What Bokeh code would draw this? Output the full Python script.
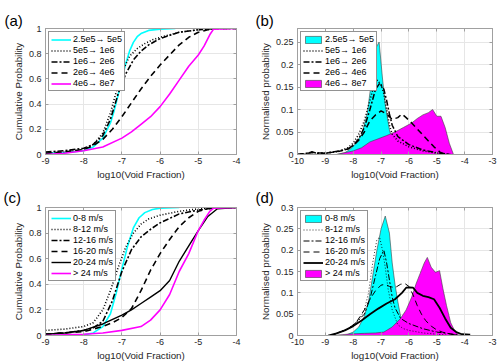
from bokeh.plotting import figure
from bokeh.models import (Range1d, FixedTicker, CustomJSTickFormatter, Legend,
                          LegendItem, LinearAxis)
from bokeh.layouts import row, column
from bokeh.embed import file_html
from bokeh.resources import INLINE

# ------------------------------------------------------------------ data
# (a) cumulative probability, Reynolds-number classes
a_labels = ["2.5e5\u2192 5e5", "5e5\u2192 1e6", "1e6\u2192 2e6", "2e6\u2192 4e6", "4e6\u2192 8e7"]
a1_x = [-9, -8.5, -8, -7.75, -7.5, -7.3, -7.2, -7.1, -7.0, -6.9, -6.8, -6.7, -6.6, -6.5, -6.3, -6.0, -5.6]
a1_y = [0.01, 0.015, 0.03, 0.06, 0.13, 0.25, 0.35, 0.47, 0.6, 0.72, 0.82, 0.89, 0.935, 0.96, 0.985, 0.995, 1.0]
a2_x = [-9, -8.5, -8, -7.75, -7.5, -7.3, -7.1, -7.0, -6.8, -6.6, -6.4, -6.2, -6.0, -5.5, -5, -4.5, -4]
a2_y = [0.01, 0.02, 0.04, 0.08, 0.17, 0.33, 0.55, 0.65, 0.78, 0.84, 0.88, 0.91, 0.93, 0.97, 0.99, 1.0, 1.0]
a3_x = [-9, -8.5, -8, -7.75, -7.5, -7.3, -7.1, -6.9, -6.7, -6.5, -6.3, -6.0, -5.5, -5, -4.5, -4]
a3_y = [0.02, 0.03, 0.05, 0.08, 0.15, 0.28, 0.48, 0.64, 0.75, 0.82, 0.87, 0.92, 0.97, 0.99, 1.0, 1.0]
a4_x = [-9, -8.5, -8, -7.75, -7.5, -7.25, -7.0, -6.75, -6.5, -6.25, -6.0, -5.75, -5.5, -5.25, -5.0, -4.75, -4.5, -4]
a4_y = [0.01, 0.02, 0.04, 0.07, 0.12, 0.2, 0.3, 0.41, 0.52, 0.62, 0.71, 0.79, 0.87, 0.93, 0.97, 0.99, 1.0, 1.0]
a5_x = [-9, -8.5, -8, -7.5, -7.0, -6.75, -6.5, -6.25, -6.0, -5.75, -5.5, -5.25, -5.0, -4.85, -4.7, -4.6, -4]
a5_y = [0.0, 0.01, 0.03, 0.06, 0.13, 0.18, 0.24, 0.3, 0.38, 0.48, 0.59, 0.7, 0.79, 0.86, 0.95, 0.995, 1.0]

# (b) normalised probability, Reynolds-number classes
b1_x = [-8.6, -8.3, -8.1, -7.9, -7.7, -7.5, -7.35, -7.2, -7.07, -6.95, -6.85, -6.7, -6.55, -6.4, -6.25]
b1_y = [0.0, 0.004, 0.012, 0.025, 0.045, 0.09, 0.16, 0.235, 0.25, 0.17, 0.11, 0.055, 0.02, 0.006, 0.0]
b2_x = [-10, -9.6, -9.5, -9.3, -9, -8.5, -8.2, -8, -7.8, -7.6, -7.4, -7.25, -7.13, -7.0, -6.9, -6.8,
        -6.7, -6.6, -6.4, -6.0, -5.5, -5.0, -4.5]
b2_y = [0, 0.003, 0.006, 0.003, 0.003, 0.007, 0.015, 0.025, 0.045, 0.075, 0.12, 0.155, 0.165, 0.155,
        0.135, 0.1, 0.065, 0.045, 0.03, 0.017, 0.008, 0.003, 0.0]
b3_x = [-10, -9.6, -9.5, -9.3, -9, -8.5, -8.2, -8, -7.8, -7.6, -7.4, -7.2, -7.05, -6.9, -6.8, -6.7,
        -6.6, -6.4, -6.0, -5.5, -5.0, -4.5]
b3_y = [0, 0.003, 0.006, 0.003, 0.003, 0.008, 0.012, 0.02, 0.035, 0.06, 0.1, 0.145, 0.158, 0.145,
        0.12, 0.09, 0.065, 0.04, 0.022, 0.01, 0.004, 0.0]
b4_x = [-10, -9.5, -9, -8.5, -8.2, -8.0, -7.8, -7.6, -7.4, -7.2, -7.0, -6.8, -6.6, -6.4, -6.25,
        -6.1, -5.9, -5.6, -5.3, -5.1, -4.9, -4.7]
b4_y = [0, 0.004, 0.003, 0.007, 0.012, 0.02, 0.032, 0.05, 0.075, 0.088, 0.097, 0.09, 0.078, 0.082,
        0.09, 0.082, 0.07, 0.05, 0.03, 0.017, 0.006, 0.0]
b5_x = [-8.6, -8.3, -8.0, -7.7, -7.4, -7.1, -6.8, -6.5, -6.2, -5.9, -5.7, -5.5, -5.3, -5.15, -5.0,
        -4.85, -4.7, -4.55, -4.4]
b5_y = [0.0, 0.004, 0.008, 0.015, 0.028, 0.035, 0.042, 0.05, 0.06, 0.07, 0.08, 0.088, 0.093, 0.1,
        0.085, 0.085, 0.06, 0.025, 0.0]

# (c) cumulative probability, wind-speed classes
c_labels = ["0-8 m/s", "8-12 m/s", "12-16 m/s", "16-20 m/s", "20-24 m/s", "> 24 m/s"]
c1_x = [-9, -8.5, -8, -7.75, -7.5, -7.3, -7.15, -7.0, -6.85, -6.7, -6.55, -6.4, -6.2, -6.0, -5.5]
c1_y = [0.0, 0.0, 0.005, 0.02, 0.07, 0.17, 0.33, 0.52, 0.7, 0.84, 0.92, 0.96, 0.985, 0.995, 1.0]
c2_x = [-9, -8.5, -8, -7.75, -7.5, -7.3, -7.1, -6.9, -6.7, -6.5, -6.3, -6.0, -5.5, -5.0, -4.5, -4]
c2_y = [0.04, 0.05, 0.07, 0.1, 0.2, 0.35, 0.53, 0.69, 0.8, 0.87, 0.91, 0.94, 0.97, 0.99, 1.0, 1.0]
c3_x = [-9, -8.5, -8, -7.75, -7.5, -7.25, -7.0, -6.75, -6.5, -6.25, -6.0, -5.5, -5.0, -4.5, -4]
c3_y = [0.01, 0.02, 0.04, 0.06, 0.11, 0.27, 0.5, 0.67, 0.77, 0.83, 0.88, 0.95, 0.98, 1.0, 1.0]
c4_x = [-9, -8.5, -8, -7.5, -7.25, -7.0, -6.75, -6.5, -6.25, -6.0, -5.75, -5.5, -5.25, -5.0, -4.75, -4.5, -4]
c4_y = [0.01, 0.02, 0.03, 0.07, 0.1, 0.14, 0.21, 0.35, 0.51, 0.64, 0.75, 0.85, 0.92, 0.97, 0.99, 1.0, 1.0]
c5_x = [-9, -8.5, -8, -7.5, -7.0, -6.75, -6.5, -6.25, -6.0, -5.75, -5.5, -5.25, -5.0, -4.75, -4.5, -4]
c5_y = [0.01, 0.02, 0.04, 0.09, 0.16, 0.2, 0.25, 0.3, 0.35, 0.43, 0.58, 0.7, 0.82, 0.93, 0.99, 1.0]
c6_x = [-9, -8.5, -8, -7.5, -7.0, -6.5, -6.25, -6.0, -5.75, -5.5, -5.25, -5.0, -4.85, -4.7, -4.6, -4]
c6_y = [0.0, 0.005, 0.01, 0.02, 0.04, 0.07, 0.12, 0.2, 0.32, 0.5, 0.64, 0.82, 0.9, 0.97, 0.995, 1.0]

# (d) normalised probability, wind-speed classes
d1_x = [-8.3, -8.0, -7.8, -7.6, -7.45, -7.3, -7.15, -7.0, -6.85, -6.7, -6.6, -6.5, -6.4, -6.3, -6.2, -6.05]
d1_y = [0.0, 0.008, 0.02, 0.045, 0.08, 0.14, 0.2, 0.25, 0.28, 0.24, 0.17, 0.12, 0.08, 0.045, 0.015, 0.0]
d2_x = [-8.8, -8.5, -8.2, -8.0, -7.8, -7.6, -7.45, -7.3, -7.15, -7.05, -6.95, -6.85, -6.75, -6.6,
        -6.4, -6.2, -6.0, -5.5, -5.0, -4.5]
d2_y = [0.0, 0.008, 0.015, 0.022, 0.035, 0.06, 0.1, 0.17, 0.225, 0.23, 0.2, 0.16, 0.11, 0.06,
        0.025, 0.016, 0.012, 0.006, 0.003, 0.0]
d3_x = [-8.8, -8.5, -8.2, -7.9, -7.6, -7.4, -7.2, -7.05, -6.9, -6.8, -6.7, -6.6, -6.5, -6.3, -6.0,
        -5.5, -5.0, -4.5, -4.1]
d3_y = [0.0, 0.007, 0.015, 0.03, 0.05, 0.085, 0.14, 0.18, 0.2, 0.17, 0.13, 0.09, 0.065, 0.04, 0.028,
        0.016, 0.008, 0.004, 0.0]
d4_x = [-8.8, -8.5, -8.2, -7.9, -7.6, -7.4, -7.2, -7.0, -6.85, -6.7, -6.5, -6.3, -6.15, -6.0, -5.85,
        -5.7, -5.55, -5.4, -5.2, -5.0, -4.8, -4.5, -4.2]
d4_y = [0.0, 0.007, 0.015, 0.03, 0.06, 0.085, 0.105, 0.118, 0.12, 0.115, 0.112, 0.12, 0.122, 0.115,
        0.095, 0.07, 0.05, 0.035, 0.022, 0.013, 0.008, 0.003, 0.0]
d5_x = [-8.9, -8.6, -8.3, -8.0, -7.7, -7.4, -7.1, -6.8, -6.5, -6.25, -6.1, -6.0, -5.85, -5.7, -5.5,
        -5.3, -5.1, -4.9, -4.7, -4.5, -4.3, -4.1, -3.8]
d5_y = [0.0, 0.005, 0.012, 0.022, 0.035, 0.05, 0.063, 0.075, 0.085, 0.1, 0.112, 0.113, 0.112, 0.1,
        0.093, 0.09, 0.085, 0.065, 0.04, 0.018, 0.008, 0.003, 0.002]
d6_x = [-8.8, -8.4, -8.0, -7.6, -7.2, -6.9, -6.6, -6.3, -6.1, -5.9, -5.75, -5.6, -5.45, -5.34, -5.2,
        -5.05, -4.9, -4.78, -4.65, -4.5, -4.35, -4.2]
d6_y = [0.0, 0.002, 0.004, 0.005, 0.006, 0.008, 0.02, 0.04, 0.06, 0.09, 0.12, 0.145, 0.17, 0.183,
        0.16, 0.148, 0.152, 0.11, 0.07, 0.03, 0.01, 0.0]

# axes
cdf_xticks = [-9, -8, -7, -6, -5, -4]
pdf_xticks = [-10, -9, -8, -7, -6, -5, -4, -3]
cdf_yticks = [0, 0.2, 0.4, 0.6, 0.8, 1]
b_yticks = [0, 0.05, 0.1, 0.15, 0.2, 0.25]
d_yticks = [0, 0.05, 0.1, 0.15, 0.2, 0.25, 0.3]
xlabel = "log10(Void Fraction)"

# ------------------------------------------------------------------ style
FONT = "Liberation Sans"
TXT = "#262626"
FRAME = "#a0a0a0"
CYAN = "#00ffff"
MAGENTA = "#ff00ff"


def make_fig(width, height, bl, br, bt, bb, xr, yr, xt, yt, ylabel, tag, tag_off, tag_stand):
    p = figure(width=width, height=height, output_backend="svg", toolbar_location=None,
               x_range=Range1d(*xr), y_range=Range1d(*yr),
               min_border_left=bl, min_border_right=br, min_border_top=bt, min_border_bottom=bb,
               title=tag)
    p.title.text_font = FONT
    p.title.text_font_size = "15px"
    p.title.text_font_style = "normal"
    p.title.text_color = "black"
    p.title.align = "left"
    p.title.offset = tag_off
    p.title.standoff = tag_stand
    fmt = CustomJSTickFormatter(code="return String(Math.round(tick*1000)/1000);")
    p.xaxis.ticker = FixedTicker(ticks=xt)
    p.yaxis.ticker = FixedTicker(ticks=yt)
    p.xaxis.formatter = fmt
    p.yaxis.formatter = fmt
    p.xaxis.axis_label = xlabel
    p.yaxis.axis_label = ylabel
    for ax in list(p.xaxis) + list(p.yaxis):
        ax.axis_line_color = FRAME
        ax.major_tick_line_color = FRAME
        ax.major_tick_in = 3
        ax.major_tick_out = 0
        ax.minor_tick_line_color = None
        ax.major_label_text_font = FONT
        ax.major_label_text_font_size = "9px"
        ax.major_label_text_color = TXT
        ax.axis_label_text_font = FONT
        ax.axis_label_text_font_size = "9.8px"
        ax.axis_label_text_font_style = "normal"
        ax.axis_label_text_color = TXT
        ax.major_label_standoff = 3
        ax.axis_label_standoff = 2
    p.yaxis.major_label_standoff = 4
    blank = CustomJSTickFormatter(code="return '';")
    top = LinearAxis(ticker=FixedTicker(ticks=xt), formatter=blank, major_label_standoff=0)
    right = LinearAxis(ticker=FixedTicker(ticks=yt), formatter=blank, major_label_standoff=0)
    for ax in (top, right):
        ax.axis_line_color = FRAME
        ax.major_tick_line_color = FRAME
        ax.major_tick_in = 3
        ax.major_tick_out = 0
        ax.minor_tick_line_color = None
        ax.major_label_text_font_size = "1px"
    p.add_layout(top, "above")
    p.add_layout(right, "right")
    p.grid.grid_line_color = "#e6e6e6"
    p.outline_line_color = FRAME
    p.background_fill_color = "white"
    return p


def add_legend(p, items, label_h):
    lg = Legend(items=items, location="top_left", margin=3, padding=2, spacing=1,
                label_height=label_h, glyph_height=label_h, glyph_width=20, label_standoff=2,
                label_text_font=FONT, label_text_font_size="9px", label_text_color="black",
                border_line_color="#262626", border_line_width=0.8,
                background_fill_color="white", background_fill_alpha=1.0)
    p.add_layout(lg)


def area(p, xs, ys, color):
    px = list(xs) + [xs[-1], xs[0]]
    py = list(ys) + [0, 0]
    return p.patch(px, py, fill_color=color, line_color="#404040", line_width=0.6)


DOT = "1 2"
DASHDOT = "6 2 2 2"
DASH = "6 4"

# ---- (a)
pa = make_fig(250, 182, 45, 14, 28, 26, (-9, -4), (0, 1), cdf_xticks, cdf_yticks,
              "Cumulative Probability", "(a)", -41, 0)
ra1 = pa.line(a1_x, a1_y, line_color=CYAN, line_width=1.6)
ra2 = pa.line(a2_x, a2_y, line_color="black", line_width=1.6, line_dash=DOT)
ra3 = pa.line(a3_x, a3_y, line_color="black", line_width=1.6, line_dash=DASHDOT)
ra4 = pa.line(a4_x, a4_y, line_color="black", line_width=1.6, line_dash=DASH)
ra5 = pa.line(a5_x, a5_y, line_color=MAGENTA, line_width=1.6)
add_legend(pa, [LegendItem(label=l, renderers=[r]) for l, r in zip(a_labels, [ra1, ra2, ra3, ra4, ra5])], 9)

# ---- (b)
pb = make_fig(250, 182, 47, 8, 28, 26, (-10, -3), (0, 0.28), pdf_xticks, b_yticks,
              "Normalised probability", "(b)", -42, 0)
rb1 = area(pb, b1_x, b1_y, CYAN)
rb5 = area(pb, b5_x, b5_y, MAGENTA)
rb2 = pb.line(b2_x, b2_y, line_color="black", line_width=1.5, line_dash=DOT)
rb3 = pb.line(b3_x, b3_y, line_color="black", line_width=1.5, line_dash=DASHDOT)
rb4 = pb.line(b4_x, b4_y, line_color="black", line_width=1.5, line_dash=DASH)
add_legend(pb, [LegendItem(label=l, renderers=[r]) for l, r in zip(a_labels, [rb1, rb2, rb3, rb4, rb5])], 9)

# ---- (c)
pc = make_fig(250, 182, 45, 14, 25, 29, (-9, -4), (0, 1), cdf_xticks, cdf_yticks,
              "Cumulative Probability", "(c)", -42, 4)
rc1 = pc.line(c1_x, c1_y, line_color=CYAN, line_width=1.6)
rc2 = pc.line(c2_x, c2_y, line_color="black", line_width=1.6, line_dash=DOT)
rc3 = pc.line(c3_x, c3_y, line_color="black", line_width=1.6, line_dash=DASHDOT)
rc4 = pc.line(c4_x, c4_y, line_color="black", line_width=1.6, line_dash=DASH)
rc5 = pc.line(c5_x, c5_y, line_color="black", line_width=1.4)
rc6 = pc.line(c6_x, c6_y, line_color=MAGENTA, line_width=1.6)
add_legend(pc, [LegendItem(label=l, renderers=[r]) for l, r in zip(c_labels, [rc1, rc2, rc3, rc4, rc5, rc6])], 8)

# ---- (d)
pd_ = make_fig(250, 182, 47, 8, 25, 29, (-10, -3), (0, 0.3), pdf_xticks, d_yticks,
               "Normalised probability", "(d)", -42, 4)
rd1 = area(pd_, d1_x, d1_y, CYAN)
rd6 = area(pd_, d6_x, d6_y, MAGENTA)
rd2 = pd_.line(d2_x, d2_y, line_color="black", line_width=0.8, line_dash=DOT)
rd3 = pd_.line(d3_x, d3_y, line_color="black", line_width=1.0, line_dash=DASHDOT)
rd4 = pd_.line(d4_x, d4_y, line_color="black", line_width=1.0, line_dash=DASH)
rd5 = pd_.line(d5_x, d5_y, line_color="black", line_width=1.8)
add_legend(pd_, [LegendItem(label=l, renderers=[r]) for l, r in zip(c_labels, [rd1, rd2, rd3, rd4, rd5, rd6])], 9)

layout = column(row(pa, pb), row(pc, pd_))

with open("out.html", "w") as f:
    f.write(file_html(layout, INLINE))
